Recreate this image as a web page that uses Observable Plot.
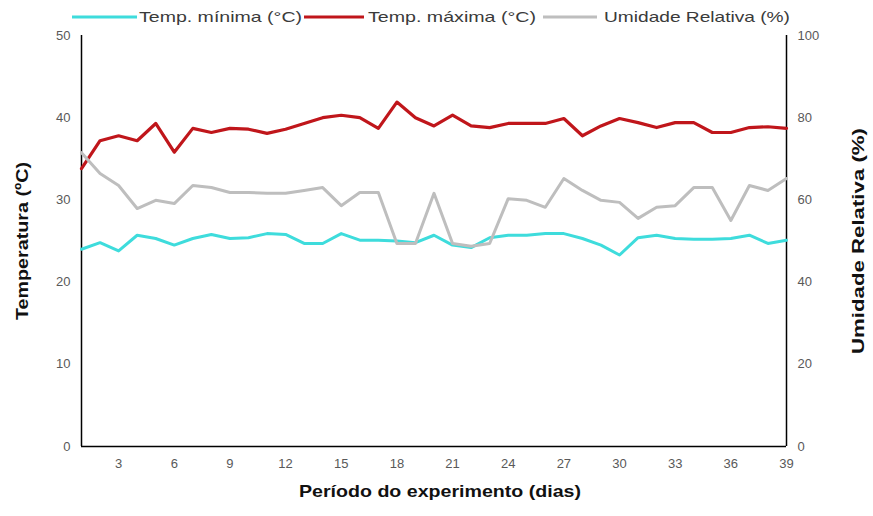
<!DOCTYPE html>
<html><head><meta charset="utf-8">
<script src="https://cdn.jsdelivr.net/npm/d3@7"></script>
<script src="https://cdn.jsdelivr.net/npm/@observablehq/plot@0.6"></script>
<style>
body{margin:0;background:#fff;font-family:"Liberation Sans",Arial,sans-serif}
#legend{display:block}
</style>
</head><body>
<div id="chart"></div>
<script>
const days = Array.from({length: 39}, (_, i) => i + 1);
const tempMin = [24.0, 24.8, 23.8, 25.7, 25.3, 24.5, 25.3, 25.8, 25.3, 25.4, 25.9, 25.8, 24.7, 24.7, 25.9, 25.1, 25.1, 25.0, 24.8, 25.7, 24.5, 24.2, 25.4, 25.7, 25.7, 25.9, 25.9, 25.3, 24.5, 23.3, 25.4, 25.7, 25.3, 25.2, 25.2, 25.3, 25.7, 24.7, 25.1];
const tempMax = [33.8, 37.2, 37.8, 37.2, 39.3, 35.8, 38.7, 38.2, 38.7, 38.6, 38.1, 38.6, 39.3, 40.0, 40.3, 40.0, 38.7, 41.9, 40.0, 39.0, 40.3, 39.0, 38.8, 39.3, 39.3, 39.3, 39.9, 37.8, 39.0, 39.9, 39.4, 38.8, 39.4, 39.4, 38.2, 38.2, 38.8, 38.9, 38.7];
const umidade = [71.5, 66.4, 63.5, 57.9, 59.9, 59.1, 63.5, 63.0, 61.8, 61.8, 61.6, 61.6, 62.3, 63.0, 58.6, 61.8, 61.8, 49.4, 49.4, 61.6, 49.4, 48.7, 49.4, 60.3, 59.9, 58.2, 65.2, 62.3, 59.9, 59.4, 55.5, 58.2, 58.6, 63.0, 63.0, 55.0, 63.5, 62.3, 65.2];
const seriesNames = ["Temp. mínima (°C)", "Temp. máxima (°C)", "Umidade Relativa (%)"];
const seriesColors = ["#3EDCDC", "#C0161B", "#BEBEBE"];
const xTicks = [3, 6, 9, 12, 15, 18, 21, 24, 27, 30, 33, 36, 39];
const yTicksLeft = [0, 10, 20, 30, 40, 50];
const yTicksRight = [0, 20, 40, 60, 80, 100];
const xLabel = "Período do experimento (dias)";
const yLabelLeft = "Temperatura (ºC)";
const yLabelRight = "Umidade Relativa (%)";

const ratio = 2; // right axis (%) = 2 × left axis (°C)
const rows = days.map((d, i) => ({dia: d, min: tempMin[i], max: tempMax[i], ur: umidade[i]}));

// Legend (above the plot)
const legendH = 26;
const legendItems = [
  {x1: 72, x2: 137, tx: 139, tl: 163},
  {x1: 304, x2: 364, tx: 368, tl: 168},
  {x1: 543, x2: 597, tx: 604, tl: 186}
];
const ns = "http://www.w3.org/2000/svg";
const leg = document.createElementNS(ns, "svg");
leg.setAttribute("id", "legend");
leg.setAttribute("width", 873);
leg.setAttribute("height", legendH);
legendItems.forEach((it, i) => {
  const l = document.createElementNS(ns, "line");
  l.setAttribute("x1", it.x1); l.setAttribute("x2", it.x2);
  l.setAttribute("y1", 17); l.setAttribute("y2", 17);
  l.setAttribute("stroke", seriesColors[i]); l.setAttribute("stroke-width", 3);
  leg.appendChild(l);
  const t = document.createElementNS(ns, "text");
  t.setAttribute("x", it.tx); t.setAttribute("y", 22);
  t.setAttribute("font-size", 15);
  t.setAttribute("fill", "#3a3a3a");
  t.setAttribute("textLength", it.tl);
  t.setAttribute("lengthAdjust", "spacingAndGlyphs");
  t.textContent = seriesNames[i];
  leg.appendChild(t);
});

const chart = Plot.plot({
  width: 873,
  height: 516 - legendH,
  marginTop: 35 - legendH,
  marginBottom: 70,
  marginLeft: 81,
  marginRight: 87,
  style: {fontFamily: '"Liberation Sans", Arial, sans-serif', fontSize: "13px", color: "#595959", background: "#fff"},
  x: {domain: [1, 39]},
  y: {domain: [0, 50]},
  marks: [
    Plot.axisX({ticks: xTicks, tickSize: 0, tickPadding: 12, label: null}),
    Plot.axisY({ticks: yTicksLeft, tickSize: 0, tickPadding: 11, label: null}),
    Plot.axisY({anchor: "right", ticks: yTicksRight.map(v => v / ratio), tickFormat: v => Math.round(v * ratio), tickSize: 0, tickPadding: 11, label: null}),
    Plot.ruleX([days[0], days[days.length - 1]], {stroke: "#000", strokeWidth: 1.5}),
    Plot.ruleY([0], {stroke: "#000", strokeWidth: 1.5}),
    Plot.line(rows, {x: "dia", y: "min", stroke: seriesColors[0], strokeWidth: 3}),
    Plot.line(rows, {x: "dia", y: "max", stroke: seriesColors[1], strokeWidth: 3.2}),
    Plot.line(rows, {x: "dia", y: d => d.ur / ratio, stroke: seriesColors[2], strokeWidth: 3}),
    Plot.text([xLabel], {text: d => d, frameAnchor: "bottom", textAnchor: "middle", dx: 6, dy: 50, fontWeight: "bold", fontSize: 17, fill: "#111", className: "ttl-x"}),
    Plot.text([yLabelLeft], {text: d => d, frameAnchor: "left", textAnchor: "middle", dx: -59, rotate: -90, fontWeight: "bold", fontSize: 17, fill: "#111", className: "ttl-yl"}),
    Plot.text([yLabelRight], {text: d => d, frameAnchor: "right", textAnchor: "middle", dx: 72, rotate: -90, fontWeight: "bold", fontSize: 17, fill: "#111", className: "ttl-yr"})
  ]
});

// stretch axis titles to the reference widths
[["ttl-x", 282], ["ttl-yl", 158], ["ttl-yr", 226]].forEach(([c, len]) => {
  chart.querySelectorAll("." + c + " text").forEach(t => {
    t.setAttribute("textLength", len);
    t.setAttribute("lengthAdjust", "spacingAndGlyphs");
  });
});

const root = document.getElementById("chart");
root.appendChild(leg);
root.appendChild(chart);
</script>
</body></html>
